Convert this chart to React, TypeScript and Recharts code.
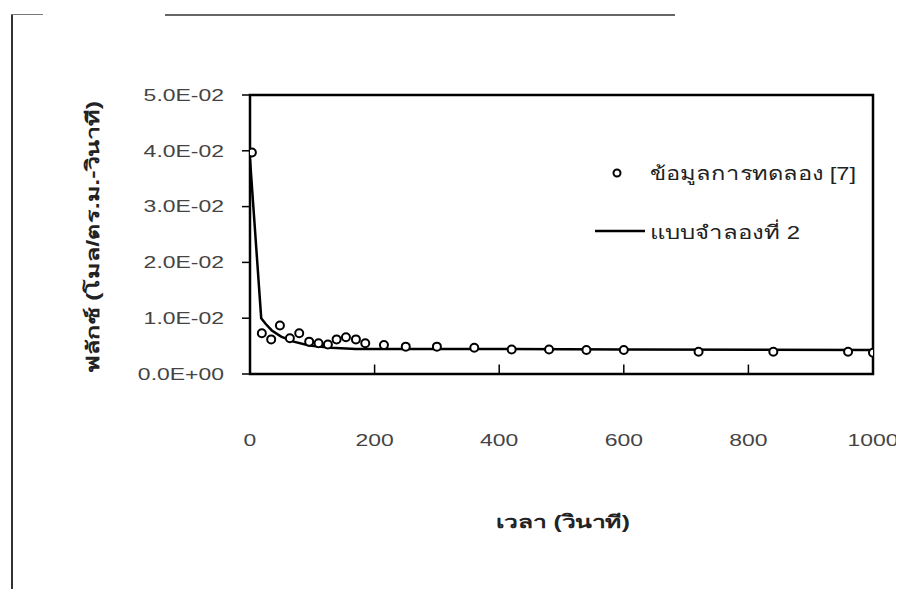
import React from 'react'
import {
  ComposedChart, Line, Scatter, XAxis, YAxis, ReferenceArea, ReferenceLine,
} from 'recharts'

// ข้อมูลการทดลอง [7]
const expTime = [3, 19, 34, 48, 64, 79, 95, 110, 125, 139, 154, 170, 185, 215, 250, 300, 360, 420, 480, 540, 600, 720, 840, 960, 1000]
const expFlux = [0.0397, 0.0073, 0.0062, 0.0087, 0.0064, 0.0073, 0.0058, 0.0055, 0.0053, 0.0062, 0.0066, 0.0062, 0.0055, 0.0052, 0.0049, 0.0049, 0.0047, 0.0044, 0.0044, 0.0043, 0.0043, 0.0040, 0.0040, 0.0040, 0.0038]

// แบบจำลองที่ 2
const modelTime = [0, 18, 25, 35, 50, 70, 95, 130, 170, 300, 600, 1000]
const modelFlux = [0.0385, 0.0100, 0.0090, 0.0078, 0.0067, 0.0058, 0.0051, 0.0047, 0.0045, 0.0045, 0.0044, 0.0043]

const xTicks = [0, 200, 400, 600, 800, 1000]
const xTickLabels = ['0', '200', '400', '600', '800', '1000']
const innerTicks = [200, 400, 600, 800]
const yTicks = [0, 0.01, 0.02, 0.03, 0.04, 0.05]
const yTickLabels = ['0.0E+00', '1.0E-02', '2.0E-02', '3.0E-02', '4.0E-02', '5.0E-02']

const expData = expTime.map((t, i) => ({ t, v: expFlux[i] }))
const modelData = modelTime.map((t, i) => ({ t, v: modelFlux[i] }))

const FONT = '"Liberation Sans", Arial, sans-serif'
const STRETCH = 1.35

const XTick = ({ x, y, payload }: any) => {
  const idx = xTicks.indexOf(payload.value)
  return (
    <text
      x={x} y={y} textAnchor="middle" dominantBaseline="central"
      fontFamily={FONT} fontSize={17} fill="#444"
      transform={`translate(${x} ${y}) scale(${STRETCH} 1) translate(${-x} ${-y})`}
    >
      {xTickLabels[idx] ?? payload.value}
    </text>
  )
}

const YTick = ({ x, y, payload }: any) => {
  const idx = yTicks.findIndex(v => Math.abs(v - payload.value) < 1e-9)
  return (
    <text
      x={x} y={y} textAnchor="end" dominantBaseline="central"
      fontFamily={FONT} fontSize={17} fill="#444"
      transform={`translate(${x} ${y}) scale(${STRETCH} 1) translate(${-x} ${-y})`}
    >
      {yTickLabels[idx] ?? payload.value}
    </text>
  )
}

export default function App() {
  return (
    <div style={{ position: 'relative', width: 904, height: 597, margin: -8, background: '#fff', overflow: 'hidden' }}>
      {/* scanned page frame */}
      <div style={{ position: 'absolute', left: 11, top: 14, width: 2, height: 583, background: '#333' }} />
      <div style={{ position: 'absolute', left: 11, top: 14, width: 32, height: 1, background: '#777' }} />
      <div style={{ position: 'absolute', left: 165, top: 14, width: 510, height: 2, background: '#666' }} />

      <div style={{ position: 'absolute', left: 0, top: 0 }}>
        <ComposedChart width={904} height={597} margin={{ top: 95, right: 31, bottom: 193, left: 170 }} style={{ overflow: 'visible' }}>
          <XAxis
            type="number" dataKey="t" domain={[0, 1000]} ticks={xTicks}
            height={30} tickSize={0} tickMargin={66} tick={<XTick />}
            axisLine={{ stroke: '#000', strokeWidth: 2 }} allowDataOverflow
          />
          <YAxis
            type="number" dataKey="v" domain={[0, 0.05]} ticks={yTicks}
            width={80} tickSize={8} tickMargin={18} tick={<YTick />}
            tickLine={{ stroke: '#000', strokeWidth: 1.5 }}
            axisLine={{ stroke: '#000', strokeWidth: 2 }}
          />
          <ReferenceArea x1={0} x2={1000} y1={0} y2={0.05} fill="none" stroke="#000" strokeWidth={2.5} fillOpacity={0} />
          {innerTicks.map(t => (
            <ReferenceLine key={t} segment={[{ x: t, y: 0 }, { x: t, y: 0.0017 }]} stroke="#000" strokeWidth={1.5} />
          ))}
          <Line
            data={modelData} dataKey="v" type="linear" stroke="#000" strokeWidth={2.5}
            dot={false} activeDot={false} isAnimationActive={false}
          />
          <Scatter
            data={expData} dataKey="v" isAnimationActive={false}
            shape={(p: any) => <circle cx={p.cx} cy={p.cy} r={4} fill="#fff" stroke="#000" strokeWidth={2} />}
          />
        </ComposedChart>
      </div>

      {/* titles and legend */}
      <svg width={904} height={597} style={{ position: 'absolute', left: 0, top: 0, pointerEvents: 'none' }}>
        <text
          x={0} y={0} textAnchor="middle" dominantBaseline="central"
          fontFamily={FONT} fontSize={18} fontWeight="bold" fill="#222"
          transform="translate(93 237) rotate(-90)"
          textLength={272} lengthAdjust="spacingAndGlyphs"
        >
          ฟลักซ์ (โมล/ตร.ม.-วินาที)
        </text>
        <text
          x={563} y={522} textAnchor="middle" dominantBaseline="central"
          fontFamily={FONT} fontSize={18} fontWeight="bold" fill="#222"
          textLength={134} lengthAdjust="spacingAndGlyphs"
        >
          เวลา (วินาที)
        </text>

        <circle cx={617} cy={173} r={3.5} fill="#fff" stroke="#000" strokeWidth={2} />
        <text
          x={650} y={173} dominantBaseline="central" fontFamily={FONT} fontSize={19} fill="#222"
          textLength={206} lengthAdjust="spacingAndGlyphs"
        >
          ข้อมูลการทดลอง [7]
        </text>
        <line x1={595} x2={645} y1={231} y2={231} stroke="#000" strokeWidth={2.5} />
        <text
          x={650} y={232} dominantBaseline="central" fontFamily={FONT} fontSize={19} fill="#222"
          textLength={150} lengthAdjust="spacingAndGlyphs"
        >
          แบบจำลองที่ 2
        </text>
      </svg>
    </div>
  )
}
